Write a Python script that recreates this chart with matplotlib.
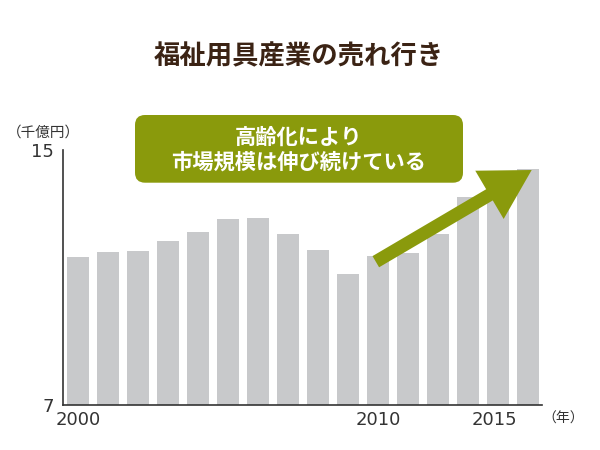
import matplotlib
matplotlib.use("Agg")
import matplotlib.pyplot as plt
from matplotlib.patches import FancyBboxPatch, FancyArrow
from matplotlib.transforms import blended_transform_factory

years = list(range(2000, 2016))
values = [11.63, 11.81, 11.83, 12.16, 12.42, 12.82, 12.87, 12.37,
          11.86, 11.10, 11.68, 11.76, 12.38, 13.53, 14.00, 14.39]
ytick_vals = [7, 15]
xtick_vals = [2000, 2010]
title = "福祉用具産業の売れ行き"
unit_y = "（千億円）"
unit_x = "（年）"
box_lines = "高齢化により\n市場規模は伸び続けている"

JP = ["Noto Sans CJK JP", "DejaVu Sans"]
NUM = ["DejaVu Sans", "Noto Sans CJK JP"]
BAR = "#c8c9cb"
GREEN = "#8a9a0c"
BROWN = "#3b2314"
AXC = "#333333"

fig = plt.figure(figsize=(6, 4.5), dpi=100)
fig.patch.set_facecolor("white")

left = 62.7 / 600
right = 542 / 600
bottom = (450 - 405) / 450
top = (450 - 150) / 450
ax = fig.add_axes([left, bottom, right - left, top - bottom])
ax.bar(years, values, width=0.73, color=BAR, zorder=2)
ax.set_ylim(7, 15)
ax.set_xlim(2000 - 0.52, 2015 + 0.46)
for s in ["top", "right"]:
    ax.spines[s].set_visible(False)
for s in ["left", "bottom"]:
    ax.spines[s].set_color(AXC)
    ax.spines[s].set_linewidth(1.2)
ax.set_yticks(ytick_vals)
ax.set_yticklabels([str(v) for v in ytick_vals], family=NUM, fontsize=13, color=AXC)
ax.tick_params(axis="y", length=0, pad=6.5)
ax.set_xticks(xtick_vals)
ax.set_xticklabels([str(v) for v in xtick_vals], family=NUM, fontsize=13, color=AXC)
ax.tick_params(axis="x", length=0, pad=4)

tr = blended_transform_factory(ax.transData, ax.transAxes)
ax.annotate(str(years[-1]), xy=(years[-1] - 0.36, 0), xycoords=tr,
            xytext=(0, -4), textcoords="offset points", ha="right", va="top",
            family=NUM, fontsize=13, color=AXC)

# overlay in pixel coordinates
ov = fig.add_axes([0, 0, 1, 1], zorder=5)
ov.set_xlim(0, 600)
ov.set_ylim(450, 0)
ov.axis("off")
ov.patch.set_alpha(0)

ov.text(299, 57, title, ha="center", va="center", family=JP, fontsize=19,
        fontweight="bold", color=BROWN)
ov.text(43, 132.5, unit_y, ha="center", va="center", family=JP, fontsize=10.5, color=AXC)
ov.text(563, 418.5, unit_x, ha="center", va="center", family=JP, fontsize=10, color=AXC)

box = FancyBboxPatch((135, 115), 328, 67.7, boxstyle="round,pad=0,rounding_size=10",
                     facecolor=GREEN, edgecolor="none")
ov.add_patch(box)
ov.text(299, 149.5, box_lines, ha="center", va="center", family=JP, fontsize=15.3,
        fontweight="bold", color="white", linespacing=1.25)

arrow = FancyArrow(375.8, 261.7, 155.9, -91.7, width=13, head_width=56, head_length=49,
                   length_includes_head=True, facecolor=GREEN, edgecolor="none")
ov.add_patch(arrow)

fig.savefig("out.png", dpi=100, facecolor="white")
